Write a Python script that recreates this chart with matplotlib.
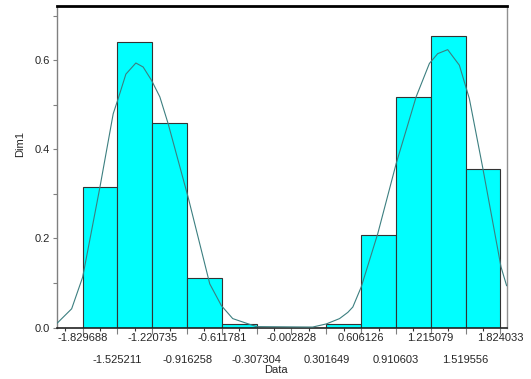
import numpy as np
import matplotlib
matplotlib.use("Agg")
import matplotlib.pyplot as plt
import matplotlib.transforms as mtransforms
from matplotlib.ticker import MultipleLocator, FixedLocator

# Histogram bin edges (also the x tick labels) and density heights
bin_edges = [-1.829688, -1.525211, -1.220735, -0.916258, -0.611781, -0.307304,
             -0.002828, 0.301649, 0.606126, 0.910603, 1.215079, 1.519556, 1.824033]
edge_labels = ["-1.829688", "-1.525211", "-1.220735", "-0.916258", "-0.611781",
               "-0.307304", "-0.002828", "0.301649", "0.606126", "0.910603",
               "1.215079", "1.519556", "1.824033"]
densities = [0.315, 0.642, 0.459, 0.112, 0.008, 0.0,
             0.0, 0.008, 0.207, 0.518, 0.654, 0.355]

# Smoothed density curve
curve_x = [-2.0515, -1.9258, -1.8297, -1.6786, -1.5624, -1.5188, -1.4515, -1.3642,
           -1.3004, -1.2270, -1.1545, -1.0821, -0.9074, -0.7178, -0.6157, -0.5170,
           -0.3100, 0.1818, 0.3014, 0.4176, 0.4901, 0.5338, 0.6071, 0.7521,
           0.9128, 1.0875, 1.2036, 1.2762, 1.3635, 1.4657, 1.5530, 1.6692,
           1.8300, 1.8789]
curve_y = [0.010, 0.042, 0.113, 0.315, 0.480, 0.514, 0.569, 0.594,
           0.585, 0.555, 0.518, 0.458, 0.293, 0.098, 0.049, 0.020,
           0.002, 0.001, 0.008, 0.020, 0.034, 0.046, 0.091, 0.211,
           0.368, 0.518, 0.593, 0.615, 0.624, 0.589, 0.514, 0.360,
           0.136, 0.094]

W, H = 531, 379
fig = plt.figure(figsize=(W / 100, H / 100), dpi=100)
ax = fig.add_axes([57 / W, 1 - 327.5 / H, (506.5 - 57) / W, (327.5 - 6) / H])

font = "Liberation Sans"
fs = 8.0
txt = "#262626"

edges = np.array(bin_edges)
ax.bar(edges[:-1], densities, width=np.diff(edges), align="edge",
       color="#00FFFF", edgecolor="#333333", linewidth=0.8, zorder=2)
ax.plot(curve_x, curve_y, color="#3C7F80", linewidth=0.8, zorder=3)

ax.set_xlim(-2.054, 1.878)
ax.set_ylim(0, 0.722)

# Spines
ax.spines["top"].set_color("black")
ax.spines["top"].set_linewidth(2)
ax.spines["bottom"].set_color("#222222")
ax.spines["bottom"].set_linewidth(1.2)
ax.spines["left"].set_color("#808080")
ax.spines["right"].set_color("#909090")
ax.spines["left"].set_linewidth(1.0)
ax.spines["right"].set_linewidth(1.0)

# X ticks at every bin edge; labels alternate between two rows
ax.xaxis.set_major_locator(FixedLocator(bin_edges))
row1 = [lab if i % 2 == 0 else "" for i, lab in enumerate(edge_labels)]
ax.set_xticklabels(row1, fontsize=fs, family=font, color=txt)
row2_tr = mtransforms.offset_copy(ax.get_xaxis_transform(), fig=fig,
                                  x=0, y=-19.6, units="points")
for i, (xv, lab) in enumerate(zip(bin_edges, edge_labels)):
    if i % 2 == 1:
        ax.text(xv, 0, lab, transform=row2_tr, ha="center", va="top",
                fontsize=fs, family=font, color=txt)

half = (bin_edges[1] - bin_edges[0]) / 2
minor_x = [e + half for e in bin_edges[:-1]] + [bin_edges[0] - half]
ax.xaxis.set_minor_locator(FixedLocator(minor_x))
ax.tick_params(axis="x", which="major", length=4.5, width=0.8, color="#808080", pad=-0.8)
ax.tick_params(axis="x", which="minor", length=2.5, width=0.8, color="#333333")

# Y ticks
ax.yaxis.set_major_locator(MultipleLocator(0.2))
ax.yaxis.set_minor_locator(MultipleLocator(0.1))
ax.set_yticks([0.0, 0.2, 0.4, 0.6])
ax.set_yticklabels(["0.0", "0.2", "0.4", "0.6"], fontsize=fs, family=font, color=txt)
ax.tick_params(axis="y", which="both", length=3, width=0.8, color="#808080", pad=2)

ax.set_xlabel("Data", fontsize=fs, family=font, color=txt)
ax.xaxis.set_label_coords(0.488, -0.116)
ax.set_ylabel("Dim1", fontsize=fs, family=font, color=txt)
ax.yaxis.set_label_coords(-0.072, 0.57)

fig.savefig("out.png", dpi=100)
